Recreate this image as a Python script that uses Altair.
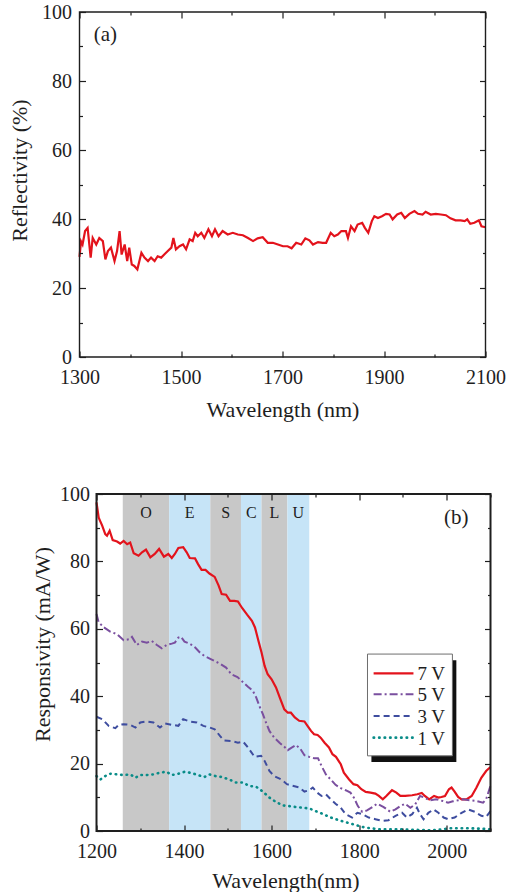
import altair as alt
import pandas as pd

FONT = "Liberation Serif"
INK = "#1e1e1e"

# ---------------- panel (a): reflectivity ----------------
REF_NM = [1300, 1303, 1306, 1311, 1316, 1322, 1326, 1333, 1339, 1346, 1351, 1356, 1362,
          1369, 1374, 1379, 1383, 1389, 1394, 1398, 1403, 1408, 1414, 1418, 1422, 1428,
          1435, 1441, 1448, 1454, 1461, 1467, 1474, 1481, 1485, 1490, 1497, 1504, 1510,
          1517, 1523, 1528, 1533, 1540, 1546, 1554, 1561, 1567, 1574, 1582, 1592, 1602,
          1612, 1622, 1632, 1642, 1651, 1661, 1671, 1681, 1691, 1701, 1710, 1718, 1727,
          1737, 1745, 1753, 1760, 1770, 1779, 1786, 1795, 1802, 1809, 1816, 1825, 1829,
          1835, 1842, 1848, 1857, 1862, 1869, 1876, 1881, 1888, 1896, 1904, 1911, 1917,
          1926, 1934, 1941, 1950, 1960, 1967, 1976, 1982, 1992, 2002, 2012, 2022, 2031,
          2041, 2051, 2059, 2064, 2070, 2078, 2087, 2092, 2100]
REF_PCT = [29.0, 33.5, 32.6, 36.5, 37.4, 28.8, 34.5, 32.6, 34.5, 33.6, 28.3, 30.7, 31.7,
           27.8, 30.7, 36.5, 29.7, 32.6, 27.8, 31.7, 26.8, 26.4, 25.4, 27.8, 30.2, 28.8,
           27.8, 28.8, 27.8, 29.2, 28.8, 29.7, 30.7, 31.7, 34.5, 31.2, 32.1, 32.6, 31.2,
           34.1, 33.6, 36.0, 35.0, 36.0, 34.5, 37.0, 35.0, 37.0, 35.0, 36.5, 35.5, 36.0,
           35.5, 35.3, 34.5, 33.6, 34.4, 34.7, 33.1, 33.1, 32.6, 32.1, 32.1, 31.5, 33.1,
           32.6, 34.4, 33.8, 32.6, 33.3, 33.1, 33.1, 36.0, 35.0, 35.5, 36.5, 36.5, 34.5,
           37.9, 36.5, 38.4, 38.9, 37.5, 36.0, 39.4, 40.8, 40.3, 40.8, 41.5, 41.3, 39.9,
           41.3, 41.8, 40.3, 41.5, 42.3, 41.5, 41.3, 42.1, 41.3, 41.5, 41.3, 41.1, 40.2,
           39.6, 39.6, 39.4, 39.9, 38.6, 38.9, 39.6, 37.9, 37.6]

# ---------------- panel (b): responsivity ----------------
V7_NM = [1200, 1205, 1213, 1220, 1224, 1230, 1237, 1247, 1254, 1262, 1270, 1277, 1285,
         1296, 1304, 1313, 1323, 1333, 1343, 1354, 1364, 1372, 1379, 1387, 1398, 1406,
         1413, 1425, 1432, 1440, 1449, 1458, 1470, 1479, 1486, 1496, 1505, 1515, 1523,
         1533, 1544, 1555, 1562, 1570, 1577, 1584, 1591, 1600, 1610, 1620, 1629, 1637,
         1644, 1653, 1663, 1675, 1682, 1690, 1697, 1705, 1712, 1721, 1731, 1739, 1747,
         1758, 1765, 1777, 1787, 1796, 1805, 1815, 1826, 1837, 1845, 1854, 1862, 1875,
         1885, 1894, 1905, 1921, 1933, 1943, 1950, 1960, 1971, 1981, 1988, 1996, 2005,
         2011, 2018, 2026, 2034, 2045, 2057, 2068, 2079, 2090, 2100]
V7 = [97.5, 93.0, 90.6, 88.1, 87.6, 89.1, 86.3, 85.9, 85.3, 86.1, 85.1, 85.6, 82.4,
      81.7, 82.7, 83.5, 81.2, 82.2, 83.7, 81.4, 82.2, 81.0, 82.2, 84.0, 84.2, 82.7,
      81.0, 80.9, 79.2, 77.5, 77.5, 76.4, 75.4, 72.8, 70.3, 70.1, 68.3, 68.3, 68.1,
      66.1, 64.2, 62.4, 60.4, 56.4, 53.0, 49.0, 46.5, 45.0, 42.6, 39.1, 36.1, 35.1,
      35.1, 33.7, 32.7, 32.5, 31.2, 29.7, 28.7, 28.5, 27.7, 26.2, 24.8, 22.8, 22.0,
      19.8, 17.3, 15.3, 13.9, 13.6, 12.4, 11.6, 11.4, 11.1, 10.4, 9.4, 10.4, 12.1,
      11.4, 10.4, 10.4, 10.6, 10.9, 11.3, 10.4, 9.4, 10.4, 9.9, 10.1, 10.4, 12.4,
      12.9, 11.7, 10.1, 9.4, 9.4, 10.4, 12.9, 15.8, 17.8, 19.0]

V5_NM = [1200, 1205, 1217, 1232, 1247, 1262, 1275, 1281, 1292, 1304, 1315, 1326, 1338,
         1349, 1360, 1372, 1379, 1387, 1393, 1401, 1413, 1425, 1436, 1446, 1461, 1472,
         1484, 1496, 1508, 1522, 1535, 1546, 1557, 1565, 1572, 1580, 1588, 1595, 1606,
         1618, 1629, 1637, 1644, 1656, 1666, 1675, 1686, 1697, 1706, 1714, 1724, 1735,
         1746, 1758, 1769, 1780, 1788, 1797, 1807, 1818, 1830, 1841, 1856, 1871, 1883,
         1894, 1905, 1917, 1928, 1939, 1950, 1961, 1976, 1991, 2003, 2014, 2026, 2037,
         2053, 2068, 2083, 2090, 2100]
V5 = [64.4, 61.9, 60.4, 59.1, 58.4, 56.6, 56.9, 57.6, 55.2, 56.2, 55.9, 56.4, 55.2,
      54.2, 55.2, 55.6, 55.9, 57.4, 57.6, 56.2, 55.6, 54.5, 53.0, 52.0, 51.0, 50.3,
      49.5, 48.5, 46.5, 45.7, 44.1, 42.8, 41.6, 39.6, 37.1, 34.7, 31.9, 29.7, 27.7,
      26.2, 25.0, 24.0, 24.6, 25.5, 24.3, 22.5, 22.0, 21.6, 21.6, 19.3, 16.8, 15.3,
      13.7, 12.7, 12.1, 11.4, 9.9, 7.4, 5.7, 6.1, 7.1, 8.1, 7.1, 5.7, 6.4,
      7.4, 8.1, 6.9, 7.9, 10.4, 9.9, 9.1, 9.4, 8.9, 8.4, 8.8, 9.1, 9.4,
      9.1, 8.9, 8.4, 9.4, 13.4]

V3_NM = [1200, 1213, 1228, 1243, 1251, 1262, 1277, 1289, 1300, 1315, 1330, 1345, 1357,
         1372, 1387, 1398, 1413, 1429, 1444, 1459, 1470, 1482, 1491, 1508, 1523, 1535,
         1546, 1561, 1576, 1584, 1595, 1606, 1622, 1635, 1648, 1663, 1675, 1686, 1694,
         1704, 1714, 1724, 1735, 1746, 1758, 1769, 1784, 1796, 1807, 1822, 1837, 1852,
         1867, 1883, 1898, 1909, 1921, 1932, 1939, 1947, 1958, 1970, 1981, 1993, 2003,
         2018, 2034, 2049, 2064, 2079, 2090, 2100]
V3 = [33.9, 33.2, 31.2, 30.5, 31.5, 31.7, 31.5, 30.7, 32.2, 32.5, 32.2, 30.7, 31.9,
      31.5, 31.2, 33.2, 32.5, 32.2, 31.2, 30.7, 30.2, 28.2, 26.9, 26.7, 26.2, 26.5,
      24.8, 22.0, 22.3, 20.8, 17.8, 16.3, 15.3, 13.9, 13.4, 12.9, 11.7, 12.1, 12.9,
      11.4, 10.4, 10.9, 9.4, 8.1, 6.9, 5.0, 4.0, 5.4, 5.0, 4.0, 3.5, 3.0,
      3.2, 4.5, 5.4, 4.0, 5.0, 6.9, 5.0, 3.5, 5.4, 6.4, 5.4, 4.0, 3.5,
      4.0, 5.4, 6.4, 5.7, 4.5, 4.2, 5.9]

V1_NM = [1200, 1209, 1220, 1232, 1247, 1262, 1277, 1289, 1300, 1315, 1330, 1345, 1360,
         1372, 1387, 1402, 1417, 1432, 1446, 1458, 1472, 1487, 1503, 1518, 1535, 1548,
         1565, 1580, 1595, 1610, 1625, 1639, 1656, 1671, 1686, 1701, 1716, 1735, 1754,
         1773, 1792, 1807, 1826, 1848, 1871, 1894, 1917, 1939, 1961, 1984, 2007, 2030,
         2053, 2075, 2100]
V1 = [16.3, 15.3, 16.3, 17.0, 16.8, 16.6, 16.8, 15.8, 16.6, 16.6, 16.8, 17.3, 17.6,
      16.6, 17.0, 17.6, 17.2, 16.6, 16.0, 16.8, 16.3, 16.0, 15.3, 14.4, 14.4, 13.4,
      13.1, 11.7, 9.9, 8.6, 7.6, 7.4, 7.1, 6.9, 6.7, 5.9, 5.1, 4.0, 3.2,
      2.5, 1.8, 1.2, 0.8, 0.5, 0.5, 0.5, 0.4, 0.3, 0.2, 0.4, 0.8, 0.8,
      0.8, 0.7, 0.5]

SERIES_LABELS = ["7 V", "5 V", "3 V", "1 V"]

BAND_NAMES = ["O", "E", "S", "C", "L", "U"]
BAND_START = [1260, 1366, 1460, 1530, 1577, 1636]
BAND_END = [1366, 1460, 1530, 1577, 1636, 1686]
BAND_KIND = ["grey", "blue", "grey", "blue", "grey", "blue"]

# tick values
XA_MAJOR = [1300, 1500, 1700, 1900, 2100]
XA_MINOR = [1400, 1600, 1800, 2000]
XB_MAJOR = [1200, 1400, 1600, 1800, 2000]
XB_MINOR = [1300, 1500, 1700, 1900, 2100]
Y_MAJOR = [0, 20, 40, 60, 80, 100]
Y_MINOR = [10, 30, 50, 70, 90]

# ---------------- styles / layout ----------------
XA_DOM = [1300, 2100]
XB_DOM = [1200, 2100]
Y_DOM = [0, 100]
WA, HA = 406, 345
SHIFT_B = 17            # panel (b) plot area starts this far right of panel (a)
WB, HB = 394 + SHIFT_B, 337
MAJ, MIN = 6, 3

STYLE = {
    "7 V": dict(color="#e3131c", strokeWidth=2.2),
    "5 V": dict(color="#7a4f9f", strokeWidth=2.0, strokeDash=[8, 3, 2, 3]),
    "3 V": dict(color="#3e4d9f", strokeWidth=2.0, strokeDash=[6, 4]),
    "1 V": dict(color="#098c88", strokeWidth=2.6, strokeDash=[0.5, 5], strokeCap="round"),
}
BAND_COLORS = {"grey": "#c8c8c8", "blue": "#c6e4f7"}

# legend geometry in data units of panel (b)
LEG_X = [1819, 2013]
LEG_Y = [22.3, 52.5]
SHADOW_D = [9, -1.8]
LEG_LINE_X = [1833, 1924]
LEG_TEXT_X = 1933
LEG_ROW_Y = [46.8, 40.6, 34.1, 27.7]

xa_scale = alt.Scale(domain=XA_DOM, nice=False, zero=False)
xb_scale = alt.Scale(domain=XB_DOM, nice=False, zero=False, range=[SHIFT_B, WB])
y_scale = alt.Scale(domain=Y_DOM, nice=False, zero=False)


def tick_axis(orient, values, size, shift=0, **kw):
    props = dict(orient=orient, values=values, tickSize=size, offset=-(size + shift),
                 domain=False, grid=False, ticks=True, tickColor=INK, tickWidth=1.2,
                 labels=False, title=None, zindex=2, format="d")
    props.update(kw)
    return alt.Axis(**props)


def axis_layers(df, xf, yf, xscale, x_major, x_minor, y_left_shift):
    """invisible layers that carry minor ticks and the mirrored top/right ticks"""
    out = []
    specs = [
        (tick_axis("bottom", x_minor, MIN), tick_axis("left", Y_MINOR, MIN, y_left_shift)),
        (tick_axis("top", x_major, MAJ), tick_axis("right", Y_MAJOR, MAJ)),
        (tick_axis("top", x_minor, MIN), tick_axis("right", Y_MINOR, MIN)),
    ]
    for xax, yax in specs:
        out.append(alt.Chart(df).mark_point(opacity=0, size=1).encode(
            x=alt.X(xf, type="quantitative", scale=xscale, axis=xax),
            y=alt.Y(yf, type="quantitative", scale=y_scale, axis=yax)))
    return out


def frame(xdom, width):
    fdf = pd.DataFrame({"x0": [xdom[0]], "x1": [xdom[1]], "y0": [Y_DOM[0]], "y1": [Y_DOM[1]]})
    xs = xa_scale if xdom == XA_DOM else xb_scale
    return alt.Chart(fdf).mark_rect(filled=False, color=INK, strokeWidth=width).encode(
        x=alt.X("x0:Q", scale=xs, axis=None), x2="x1:Q",
        y=alt.Y("y0:Q", scale=y_scale, axis=None), y2="y1:Q")


# ---------------- panel (a) ----------------
df_a = pd.DataFrame({"nm": REF_NM, "pct": REF_PCT})

line_a = alt.Chart(df_a).mark_line(color="#e3131c", strokeWidth=2.2).encode(
    x=alt.X("nm:Q", scale=xa_scale,
            axis=tick_axis("bottom", XA_MAJOR, MAJ, labels=True, labelPadding=10,
                           labelFlush=False, labelOverlap=False,
                           title="Wavelength (nm)", titlePadding=12)),
    y=alt.Y("pct:Q", scale=y_scale,
            axis=tick_axis("left", Y_MAJOR, MAJ, labels=True, labelPadding=8,
                           labelFlush=False, labelOverlap=False,
                           title="Reflectivity (%)", titlePadding=10, titleY=158)),
)

tag_a = alt.Chart(pd.DataFrame({"x": [1351], "y": [93.3], "t": ["(a)"]})).mark_text(
    font=FONT, fontSize=21, color=INK).encode(
    x=alt.X("x:Q", scale=xa_scale, axis=None),
    y=alt.Y("y:Q", scale=y_scale, axis=None), text="t:N")

panel_a = alt.layer(
    line_a, *axis_layers(df_a, "nm", "pct", xa_scale, XA_MAJOR, XA_MINOR, 0),
    tag_a, frame(XA_DOM, 1.4)
).resolve_axis(x="independent", y="independent").properties(width=WA, height=HA)

# ---------------- panel (b) ----------------
bands = pd.DataFrame({"name": BAND_NAMES, "start": BAND_START, "end": BAND_END,
                      "kind": BAND_KIND})
bands["lo"] = Y_DOM[0]
bands["hi"] = Y_DOM[1]
bands["mid"] = (bands["start"] + bands["end"]) / 2
bands["ly"] = 94.4

band_rects = alt.Chart(bands).mark_rect().encode(
    x=alt.X("start:Q", scale=xb_scale, axis=None), x2="end:Q",
    y=alt.Y("lo:Q", scale=y_scale, axis=None), y2="hi:Q",
    color=alt.Color("kind:N", legend=None,
                    scale=alt.Scale(domain=list(BAND_COLORS), range=list(BAND_COLORS.values()))))

band_text = alt.Chart(bands).mark_text(font=FONT, fontSize=16, color=INK).encode(
    x=alt.X("mid:Q", scale=xb_scale, axis=None),
    y=alt.Y("ly:Q", scale=y_scale, axis=None), text="name:N")

series = {"7 V": (V7_NM, V7), "5 V": (V5_NM, V5), "3 V": (V3_NM, V3), "1 V": (V1_NM, V1)}

lines_b = []
for i, lab in enumerate(SERIES_LABELS):
    nm, vals = series[lab]
    d = pd.DataFrame({"nm": nm, "r": vals})
    if i == 0:
        xax = tick_axis("bottom", XB_MAJOR, MAJ, labels=True, labelPadding=10,
                        labelFlush=False, labelOverlap=False,
                        title="Wavelength(nm)", titlePadding=9.5, titleX=206)
        yax = tick_axis("left", Y_MAJOR, MAJ, SHIFT_B, labels=True, labelPadding=7,
                        labelFlush=False, labelOverlap=False,
                        title="Responsivity (mA/W)", titlePadding=5, titleY=150)
    else:
        xax, yax = None, None
    lines_b.append(alt.Chart(d).mark_line(**STYLE[lab]).encode(
        x=alt.X("nm:Q", scale=xb_scale, axis=xax),
        y=alt.Y("r:Q", scale=y_scale, axis=yax)))

df_b_ax = pd.DataFrame({"nm": V7_NM, "r": V7})

# legend (drawn with marks in data units)
leg = pd.DataFrame({"x0": [LEG_X[0]], "x1": [LEG_X[1]], "y0": [LEG_Y[0]], "y1": [LEG_Y[1]]})
shadow = pd.DataFrame({"x0": [LEG_X[0] + SHADOW_D[0]], "x1": [LEG_X[1] + SHADOW_D[0]],
                       "y0": [LEG_Y[0] + SHADOW_D[1]], "y1": [LEG_Y[1] + SHADOW_D[1]]})


def box(df, **mk):
    return alt.Chart(df).mark_rect(**mk).encode(
        x=alt.X("x0:Q", scale=xb_scale, axis=None), x2="x1:Q",
        y=alt.Y("y0:Q", scale=y_scale, axis=None), y2="y1:Q")


legend_layers = [box(shadow, color="#111111"),
                 box(leg, fill="white", stroke="#6e6e6e", strokeWidth=1)]
for lab, ry in zip(SERIES_LABELS, LEG_ROW_Y):
    row = pd.DataFrame({"x0": [LEG_LINE_X[0]], "x1": [LEG_LINE_X[1]], "y": [ry],
                        "tx": [LEG_TEXT_X], "t": [lab]})
    legend_layers.append(alt.Chart(row).mark_rule(**STYLE[lab]).encode(
        x=alt.X("x0:Q", scale=xb_scale, axis=None), x2="x1:Q",
        y=alt.Y("y:Q", scale=y_scale, axis=None)))
    legend_layers.append(alt.Chart(row).mark_text(
        font=FONT, fontSize=19, color=INK, align="left", dy=1).encode(
        x=alt.X("tx:Q", scale=xb_scale, axis=None),
        y=alt.Y("y:Q", scale=y_scale, axis=None), text="t:N"))

tag_b = alt.Chart(pd.DataFrame({"x": [2022], "y": [92.9], "t": ["(b)"]})).mark_text(
    font=FONT, fontSize=21, color=INK).encode(
    x=alt.X("x:Q", scale=xb_scale, axis=None),
    y=alt.Y("y:Q", scale=y_scale, axis=None), text="t:N")

panel_b = alt.layer(
    band_rects, band_text, *lines_b,
    *axis_layers(df_b_ax, "nm", "r", xb_scale, XB_MAJOR, XB_MINOR, SHIFT_B),
    *legend_layers, tag_b, frame(XB_DOM, 2)
).resolve_axis(x="independent", y="independent").properties(width=WB, height=HB)

chart = alt.vconcat(panel_a, panel_b, spacing=64).properties(
    padding={"left": 8.5, "top": 2, "right": 0, "bottom": 0},
    background="white",
).configure_view(stroke=None).configure_axis(
    labelFont=FONT, titleFont=FONT, labelFontSize=20, titleFontSize=22,
    labelColor=INK, titleColor=INK, titleFontWeight="normal",
)

chart.save("out.html", embed_options={"renderer": "svg", "actions": False})
